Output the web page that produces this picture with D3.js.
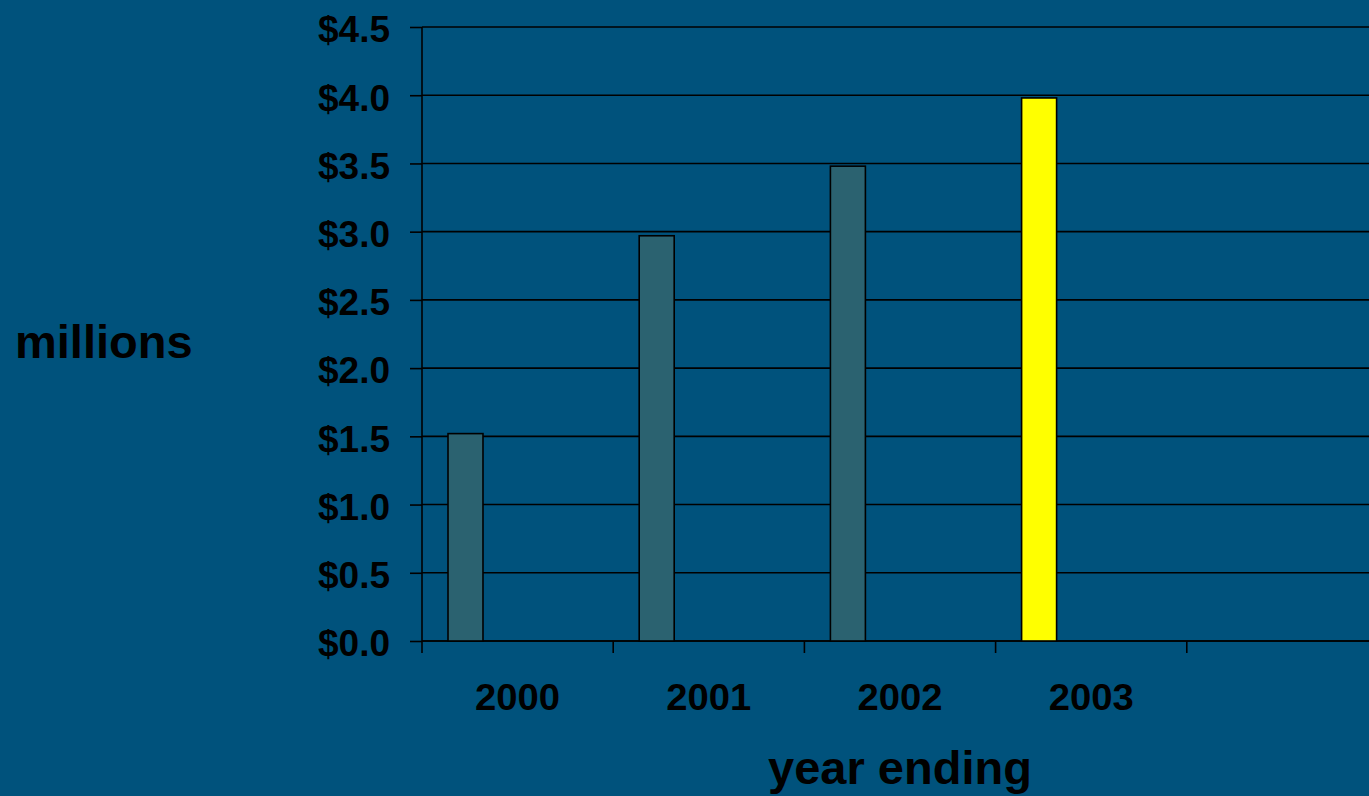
<!DOCTYPE html>
<html>
<head>
<meta charset="utf-8">
<script src="https://cdn.jsdelivr.net/npm/d3@7"></script>
<style>
  html, body { margin: 0; padding: 0; background: #00527c; overflow: hidden; }
  #graf { width: 1369px; height: 796px; }
  text { font-family: "Liberation Sans", Arial, sans-serif; font-weight: bold; fill: #000; }
</style>
</head>
<body>
<div id="graf"></div>
<script>
const years = ["2000", "2001", "2002", "2003"]
const ventas = [1.52, 2.97, 3.48, 3.98]
const yTicks = [0, 0.5, 1.0, 1.5, 2.0, 2.5, 3.0, 3.5, 4.0, 4.5]
const highlight = "2003"

const anchoTotal = 1369
const altoTotal = 796
const margins = { left: 422, top: 27, right: 0, bottom: 155 }
const ancho = anchoTotal - margins.left - margins.right
const alto = altoTotal - margins.top - margins.bottom

const svg = d3.select("#graf")
  .append("svg")
  .attr("width", anchoTotal)
  .attr("height", altoTotal)

svg.append("rect")
  .attr("width", anchoTotal)
  .attr("height", altoTotal)
  .attr("fill", "#00527c")

const g = svg.append("g")
  .attr("transform", `translate(${margins.left}, ${margins.top})`)

// Escaladores
const y = d3.scaleLinear().domain([0, 4.5]).range([alto, 0])

const step = 191.2
const x = d3.scaleBand()
  .domain(years)
  .range([0, step * years.length])
  .padding(0)

// Rejilla
g.append("g")
  .selectAll("line")
  .data(yTicks)
  .join("line")
  .attr("x1", 0)
  .attr("x2", ancho)
  .attr("y1", d => y(d))
  .attr("y2", d => y(d))
  .attr("stroke", "#000")
  .attr("stroke-width", 1.6)

// Eje Y
const yAxisGroup = g.append("g")
  .call(d3.axisLeft(y).tickValues(yTicks).tickSize(12).tickPadding(20)
    .tickFormat(d => "$" + d3.format(".1f")(d)))
yAxisGroup.select(".domain").remove()
yAxisGroup.selectAll(".tick line").attr("stroke", "#000").attr("stroke-width", 1.6)
yAxisGroup.selectAll(".tick text")
  .attr("font-size", 37)
  .attr("font-family", "'Liberation Sans', Arial, sans-serif")
  .attr("font-weight", "bold")
  .attr("fill", "#000")
  .attr("dy", "0.4em")

g.append("line")
  .attr("x1", 0).attr("x2", 0)
  .attr("y1", 0).attr("y2", alto + 12)
  .attr("stroke", "#000").attr("stroke-width", 1.6)

// Eje X
g.append("line")
  .attr("x1", 0).attr("x2", ancho)
  .attr("y1", alto).attr("y2", alto)
  .attr("stroke", "#000").attr("stroke-width", 1.6)

g.append("g")
  .selectAll("line")
  .data(years)
  .join("line")
  .attr("x1", d => x(d) + x.bandwidth())
  .attr("x2", d => x(d) + x.bandwidth())
  .attr("y1", alto)
  .attr("y2", alto + 12)
  .attr("stroke", "#000").attr("stroke-width", 1.6)

g.append("g")
  .selectAll("text")
  .data(years)
  .join("text")
  .attr("x", d => x(d) + x.bandwidth() / 2)
  .attr("y", alto + 69)
  .attr("text-anchor", "middle")
  .attr("font-size", 36)
  .attr("textLength", 85)
  .attr("lengthAdjust", "spacingAndGlyphs")
  .text(d => d)

// Barras
g.append("g")
  .selectAll("rect")
  .data(years.map((d, i) => ({ year: d, value: ventas[i] })))
  .join("rect")
  .attr("x", d => x(d.year) + x.bandwidth() * 0.136)
  .attr("width", x.bandwidth() * 0.183)
  .attr("y", d => y(d.value))
  .attr("height", d => y(0) - y(d.value))
  .attr("fill", d => d.year === highlight ? "#ffff00" : "#2b6270")
  .attr("stroke", "#000")
  .attr("stroke-width", 1.6)

// Títulos
svg.append("text")
  .attr("x", 15)
  .attr("y", 358)
  .attr("font-size", 47)
  .text("millions")

svg.append("text")
  .attr("x", 900)
  .attr("y", 784)
  .attr("text-anchor", "middle")
  .attr("font-size", 47)
  .text("year ending")
</script>
</body>
</html>
